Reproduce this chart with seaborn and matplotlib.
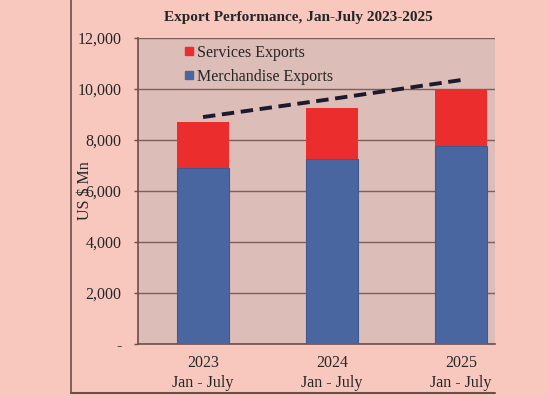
import numpy as np
import pandas as pd
import seaborn as sns
import matplotlib.pyplot as plt
from matplotlib.lines import Line2D

# data (US $ Mn)
years = ["2023\nJan - July", "2024\nJan - July", "2025\nJan - July"]
merchandise = [6900, 7250, 7770]
services = [1800, 2000, 2230]
trend = [8900, 9610, 10350]
ytick_vals = [0, 2000, 4000, 6000, 8000, 10000, 12000]
ytick_labels = ["-", "2,000", "4,000", "6,000", "8,000", "10,000", "12,000"]

df = pd.DataFrame({"period": years, "merch": merchandise, "serv": services, "trend": trend})
df["total"] = df["merch"] + df["serv"]

outer_bg = "#F8C8BF"
plot_bg = "#DDBDB8"
blue = "#4A66A0"
red = "#EC2D2D"
grid_c = "#7E5E58"
frame_c = "#6E4E48"

sns.set_style("white")
plt.rcParams["font.family"] = ["Liberation Serif", "DejaVu Serif"]

fig = plt.figure(figsize=(5.48, 3.97), dpi=100, facecolor=outer_bg)
ax = fig.add_axes([0.2518, 0.1335, 0.6515, 0.7708])
ax.set_facecolor(plot_bg)

# stacked bars: total in red, merchandise on top in blue
sns.barplot(data=df, x="period", y="total", color=red, width=0.4, saturation=1,
            edgecolor="none", linewidth=0, ax=ax, zorder=3)
sns.barplot(data=df, x="period", y="merch", color=blue, width=0.4, saturation=1,
            edgecolor="#41598E", linewidth=0.8, ax=ax, zorder=4)
sns.lineplot(x=np.arange(len(years)), y=df["trend"], ax=ax, color="#1C1A2C", lw=2.8,
             linestyle=(0, (3.2, 1.7)), zorder=5)

ax.set_xlim(-0.504, 2.264)
ax.set_ylim(0, 12000)
ax.set_yticks(ytick_vals)
ax.set_yticklabels(ytick_labels, fontsize=11.5)
ax.yaxis.grid(True, color=grid_c, lw=1)
ax.set_axisbelow(True)

ax.set_xticks(range(len(years)))
ax.set_xticklabels(years, fontsize=11.5, linespacing=1.3)
ax.set_xticks([-0.5, 0.5, 1.5], minor=True)
ax.tick_params(axis="x", which="major", length=0, pad=8)
ax.tick_params(axis="x", which="minor", length=4, color=frame_c, width=1)
ax.tick_params(axis="y", length=3, color=frame_c, width=1, pad=9, left=True)

for s in ["top", "right"]:
    ax.spines[s].set_visible(False)
for s in ["left", "bottom"]:
    ax.spines[s].set_color(frame_c)
    ax.spines[s].set_linewidth(1.2)

ax.set_xlabel("")
ax.set_ylabel("US $ Mn", fontsize=11.5)
ax.yaxis.set_label_coords(-0.125, 0.5)

handles = [
    Line2D([], [], marker="s", color=red, ls="", markersize=6),
    Line2D([], [], marker="s", color=blue, ls="", markersize=6),
]
ax.legend(handles, ["Services Exports", "Merchandise Exports"], loc="upper left",
          bbox_to_anchor=(0.088, 1.025), frameon=False, fontsize=11.5,
          handlelength=0.6, handletextpad=0.25, labelspacing=0.5)

fig.text(0.544, 0.955, "Export Performance, Jan-July 2023-2025", ha="center", va="center",
         fontsize=11, fontweight="bold")

# chart area frame (cropped at top and right)
fig.add_artist(Line2D([0.1296, 0.1296], [0.0101, 1.0], color=frame_c, lw=1.2))
fig.add_artist(Line2D([0.1296, 0.9033], [0.0101, 0.0101], color=frame_c, lw=1.5))

fig.savefig("out.png", dpi=100, facecolor=outer_bg)
